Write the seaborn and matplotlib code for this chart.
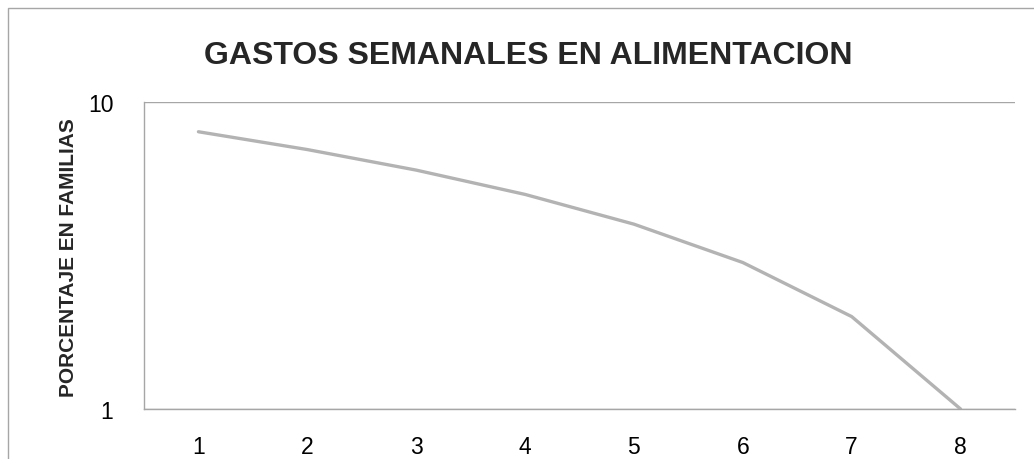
import numpy as np
import pandas as pd
import seaborn as sns
import matplotlib.pyplot as plt
from matplotlib.patches import Rectangle

semanas = [1, 2, 3, 4, 5, 6, 7, 8]
porcentaje = [8, 7, 6, 5, 4, 3, 2, 1]
titulo = "GASTOS SEMANALES EN ALIMENTACION"
etiqueta_y = "PORCENTAJE EN FAMILIAS"

data = pd.DataFrame({"semana": semanas, "porcentaje": porcentaje})

sns.set_style("white")
plt.rcParams['font.family'] = ['Liberation Sans Narrow', 'Liberation Sans', 'DejaVu Sans']

fig = plt.figure(figsize=(10.34, 4.6), dpi=100)
ax = fig.add_axes([144/1034, 50/460, 871/1034, 307/460])

sns.lineplot(data=data, x="semana", y="porcentaje", color="#b3b3b3", linewidth=2.4, ax=ax)

ax.set_yscale("log")
ax.set_ylim(1, 10)
ax.set_xlim(0.5, 8.5)
ax.set_xticks(semanas)
ax.set_xticklabels([str(s) for s in semanas])
ax.set_yticks([1, 10])
ax.set_yticklabels(["1", "10"])
ax.yaxis.set_minor_locator(plt.NullLocator())
ax.tick_params(axis="both", length=0, labelsize=16.5, colors="black")
ax.tick_params(axis="y", pad=22)
ax.tick_params(axis="x", pad=19)
ax.yaxis.grid(True, color="#a6a6a6", linewidth=1)
ax.xaxis.grid(False)
for s in ["top", "right"]:
    ax.spines[s].set_visible(False)
for s in ["left", "bottom"]:
    ax.spines[s].set_color("#a6a6a6")
    ax.spines[s].set_linewidth(1)
ax.set_xlabel("")
ax.set_ylabel("")

fig.text(528/1034, 1 - 56/460, titulo, ha="center", va="center",
         fontsize=23, fontweight="bold")
fig.text(69/1034, 1 - 258/460, etiqueta_y, ha="center", va="center",
         rotation=90, fontsize=15, fontweight="bold")

fig.patches.append(Rectangle((8/1034, -0.1), 1.2, 1 - 9/460 + 0.1, transform=fig.transFigure,
                             fill=False, edgecolor="#a6a6a6", linewidth=1))

fig.savefig("out.png", dpi=100)
